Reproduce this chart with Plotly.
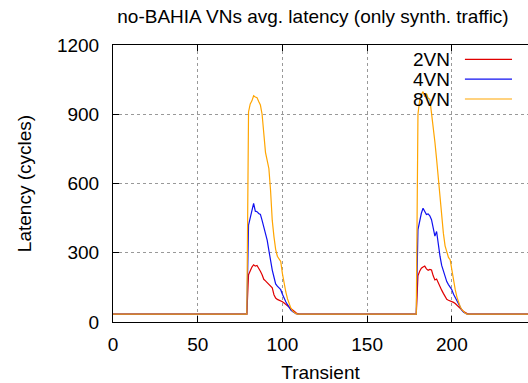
import plotly.graph_objects as go

# Shared x positions (Transient)
x_vals = [0,
          79, 80, 81, 82, 83, 84, 85, 86, 87, 88, 89, 90, 91, 92, 93, 94,
          95, 96, 97, 98, 99, 100, 101, 102, 103, 104, 105, 106, 107, 108, 109, 110,
          179, 180, 181, 182, 183, 184, 185, 186, 187, 188, 189, 190, 191, 192, 193, 194,
          195, 196, 197, 198, 199, 200, 201, 202, 203, 204, 205, 206, 207, 208, 209, 210,
          250]

lat_2vn = [34,
           34, 205, 225, 238, 248, 242, 245, 235, 220, 205, 185, 178, 170, 166, 158, 148,
           118, 104, 98, 95, 93, 88, 82, 76, 68, 60, 55, 50, 44, 40, 36, 34,
           34, 200, 220, 233, 238, 242, 230, 224, 228, 225, 200, 182, 186, 168, 152, 138,
           124, 110, 98, 94, 92, 90, 85, 80, 74, 66, 58, 52, 45, 40, 37, 34,
           34]

lat_4vn = [34,
           34, 420, 450, 490, 514, 480, 478, 470, 466, 440, 410, 385, 355, 310, 265, 225,
           195, 165, 155, 148, 140, 120, 100, 88, 75, 62, 52, 45, 40, 36, 34, 34,
           34, 400, 440, 471, 493, 480, 466, 468, 460, 443, 405, 372, 392, 327, 285, 245,
           218, 195, 175, 162, 153, 140, 120, 105, 88, 74, 60, 50, 42, 37, 34, 34,
           34]

lat_8vn = [34,
           34, 910, 945, 958, 980, 975, 972, 955, 940, 900, 820, 735, 700, 665, 570, 440,
           370, 315, 285, 275, 262, 210, 165, 130, 100, 78, 60, 48, 40, 36, 34, 34,
           34, 900, 960, 985, 998, 975, 990, 970, 965, 905, 850, 780, 705, 620, 545, 465,
           385, 330, 298, 280, 270, 220, 182, 140, 108, 85, 65, 52, 44, 38, 34, 34,
           34]

series_names = ["2VN", "4VN", "8VN"]
series_vals = [lat_2vn, lat_4vn, lat_8vn]
series_colors = ["#e00000", "#1010f0", "#ffa500"]

y_ticks = [0, 300, 600, 900, 1200]
x_ticks = [0, 50, 100, 150, 200]

FONT = "Liberation Sans, Arial, Helvetica, sans-serif"
FS = 19

fig = go.Figure()
for name, vals, col in zip(series_names, series_vals, series_colors):
    fig.add_trace(go.Scatter(x=x_vals, y=vals, mode="lines", name=name,
                             line=dict(color=col, width=1.2), showlegend=False))

# gnuplot-style legend (text then line sample)
leg_y = [0.948, 0.877, 0.805]
for name, col, ly in zip(series_names, series_colors, leg_y):
    fig.add_annotation(xref="paper", yref="paper", x=0.816, y=ly, text=name,
                       showarrow=False, xanchor="right", yanchor="middle",
                       font=dict(family=FONT, size=FS, color="black"))
    fig.add_shape(type="line", xref="paper", yref="paper", x0=0.848, x1=0.9615,
                  y0=ly, y1=ly, line=dict(color=col, width=1.2))

fig.update_layout(
    width=528, height=383,
    margin=dict(l=113, r=0, t=45, b=61),
    paper_bgcolor="white", plot_bgcolor="white",
    font=dict(family=FONT, size=FS, color="black"),
    title=dict(text="no-BAHIA VNs avg. latency (only synth. traffic)",
               xref="container", yref="container", x=313/528, y=1-16/383,
               xanchor="center", yanchor="middle",
               font=dict(family=FONT, size=FS, color="black")),
)
fig.update_xaxes(range=[0, 244.95], tickvals=x_ticks, ticks="inside", ticklen=6,
                 tickcolor="black", showline=True, linecolor="black", linewidth=1,
                 mirror="ticks", showgrid=True, gridcolor="#999999", griddash="dot",
                 gridwidth=1, zeroline=False, ticklabelstandoff=5,
                 tickfont=dict(family=FONT, size=FS, color="black"),
                 title=dict(text="Transient", standoff=11,
                            font=dict(family=FONT, size=FS, color="black")))
fig.update_yaxes(range=[0, 1200], tickvals=y_ticks, ticks="inside", ticklen=6,
                 tickcolor="black", showline=True, linecolor="black", linewidth=1,
                 showgrid=True, gridcolor="#999999", griddash="dot", gridwidth=1,
                 zeroline=False, ticklabelstandoff=9,
                 tickfont=dict(family=FONT, size=FS, color="black"),
                 title=dict(text="Latency (cycles)", standoff=20,
                            font=dict(family=FONT, size=FS, color="black")))

fig.write_html("out.html")
